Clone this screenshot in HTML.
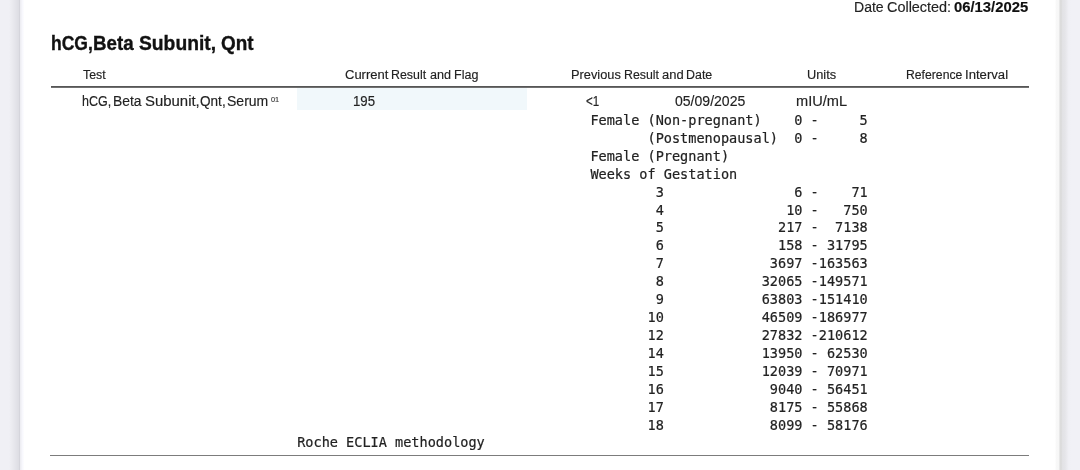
<!DOCTYPE html>
<html lang="en">
<head>
<meta charset="utf-8">
<title>hCG,Beta Subunit, Qnt</title>
<style>
html,body{margin:0;padding:0;}
body{width:1080px;height:470px;position:relative;overflow:hidden;background:#fff;
  font-family:"Liberation Sans",sans-serif;color:#222;}
.edge-l{position:absolute;left:0;top:0;width:25px;height:470px;
  background:linear-gradient(to right,#f0f0f5 0px,#f0f0f5 9px,#ebebf0 12px,#e3e3e9 16px,#dedee4 18.5px,#d5d5dc 19.5px,#eeeef3 20.5px,#f8f8fd 22.5px,#ffffff 24.5px);}
.edge-r{position:absolute;left:1055px;top:0;width:25px;height:470px;
  background:linear-gradient(to right,#ffffff 0px,#f8f8f8 1.2px,#f7f7f7 3.8px,#dddddd 5px,#dbdbdb 6.2px,#e2e2e5 7.5px,#e5e5e9 10px,#efeff4 13.5px,#f1f1f6 16px,#f1f1f6 25px);}
.t{position:absolute;white-space:pre;line-height:1;margin:0;padding:0;transform-origin:0 0;-webkit-text-stroke:0.15px currentColor;}
h1{margin:0;font-size:20px;font-weight:bold;}
h1 .t{-webkit-text-stroke:0.35px currentColor;}
.hl{position:absolute;left:297px;top:88px;width:229.5px;height:21.7px;background:#f1f8fb;}
.ln1{position:absolute;left:51px;top:86px;width:978px;height:2px;background:linear-gradient(to bottom,#565656 0,#565656 50%,#707070 50%,#707070 100%);}
.ln2{position:absolute;left:50px;top:455px;width:979px;height:1px;background:#7c7c7c;}
pre{position:absolute;margin:0;font-family:"DejaVu Sans Mono","Liberation Mono",monospace;
  font-size:13.555px;line-height:17.92px;color:#222;white-space:pre;-webkit-text-stroke:0.2px #222;}
pre.m{left:590.4px;top:111.9px;}
pre.roche{left:297.2px;top:434.3px;}
</style>
</head>
<body>
<div class="edge-l"></div>
<div class="edge-r"></div>

<div id="dc"><span class="t" style="left:853.70px;top:0.15px;font-size:14px;transform:scaleX(1.0040);">Date</span> <span class="t" style="left:887.00px;top:0.15px;font-size:14px;transform:scaleX(1.0299);">Collected:</span> <span class="t" style="left:954.20px;top:0.15px;font-size:14px;font-weight:bold;color:#111;transform:scaleX(1.0586);">06/13/2025</span></div>

<h1><span class="t" style="left:50.92px;top:33.47px;font-size:20px;font-weight:bold;color:#111;transform:scaleX(0.8763);">hCG,</span> <span class="t" style="left:93.16px;top:33.47px;font-size:20px;font-weight:bold;color:#111;transform:scaleX(0.9369);">Beta</span> <span class="t" style="left:139.20px;top:33.47px;font-size:20px;font-weight:bold;color:#111;transform:scaleX(0.9632);">Subunit,</span> <span class="t" style="left:221.30px;top:33.47px;font-size:20px;font-weight:bold;color:#111;transform:scaleX(0.9461);">Qnt</span></h1>

<div id="thead">
<span class="t" style="left:82.60px;top:69.22px;font-size:12.5px;transform:scaleX(0.9850);">Test</span>
<span class="t" style="left:345.00px;top:69.22px;font-size:12.5px;transform:scaleX(1.0401);">Current</span>
<span class="t" style="left:391.21px;top:69.22px;font-size:12.5px;transform:scaleX(0.9898);">Result</span>
<span class="t" style="left:429.50px;top:69.22px;font-size:12.5px;transform:scaleX(1.0094);">and</span>
<span class="t" style="left:453.60px;top:69.22px;font-size:12.5px;transform:scaleX(1.0015);">Flag</span>
<span class="t" style="left:570.98px;top:69.22px;font-size:12.5px;transform:scaleX(1.0236);">Previous</span>
<span class="t" style="left:623.71px;top:69.22px;font-size:12.5px;transform:scaleX(0.9869);">Result</span>
<span class="t" style="left:661.50px;top:69.22px;font-size:12.5px;transform:scaleX(1.0381);">and</span>
<span class="t" style="left:686.31px;top:69.22px;font-size:12.5px;transform:scaleX(0.9940);">Date</span>
<span class="t" style="left:807.20px;top:69.22px;font-size:12.5px;transform:scaleX(1.0238);">Units</span>
<span class="t" style="left:905.82px;top:69.22px;font-size:12.5px;transform:scaleX(0.9767);">Reference</span>
<span class="t" style="left:965.35px;top:69.22px;font-size:12.5px;transform:scaleX(1.0506);">Interval</span>
</div>
<div class="ln1"></div>

<div class="hl"></div>
<div id="row">
<span class="t" style="left:82.40px;top:94.15px;font-size:14px;transform:scaleX(0.8935);">hCG,</span>
<span class="t" style="left:112.51px;top:94.15px;font-size:14px;transform:scaleX(0.9888);">Beta</span>
<span class="t" style="left:144.80px;top:94.15px;font-size:14px;transform:scaleX(1.0657);">Subunit,</span>
<span class="t" style="left:199.80px;top:94.15px;font-size:14px;transform:scaleX(0.9701);">Qnt,</span>
<span class="t" style="left:227.00px;top:94.15px;font-size:14px;transform:scaleX(1.0007);">Serum</span>
<span class="t" style="left:270.50px;top:96.04px;font-size:7.4px;color:#3a3a3a;transform:scaleX(0.9987);">01</span>
<span class="t" style="left:352.96px;top:94.35px;font-size:14px;transform:scaleX(0.9436);">195</span>
<span class="t" style="left:586.00px;top:94.35px;font-size:14px;transform:scaleX(0.8284);">&lt;1</span>
<span class="t" style="left:674.50px;top:94.35px;font-size:14px;transform:scaleX(1.0031);">05/09/2025</span>
<span class="t" style="left:796.30px;top:94.45px;font-size:14px;transform:scaleX(1.0424);">mIU/mL</span>
</div>

<pre class="m">Female (Non-pregnant)    0 -     5
       (Postmenopausal)  0 -     8
Female (Pregnant)
Weeks of Gestation
        3                6 -    71
        4               10 -   750
        5              217 -  7138
        6              158 - 31795
        7             3697 -163563
        8            32065 -149571
        9            63803 -151410
       10            46509 -186977
       12            27832 -210612
       14            13950 - 62530
       15            12039 - 70971
       16             9040 - 56451
       17             8175 - 55868
       18             8099 - 58176</pre>
<pre class="roche">Roche ECLIA methodology</pre>
<div class="ln2"></div>
</body>
</html>
